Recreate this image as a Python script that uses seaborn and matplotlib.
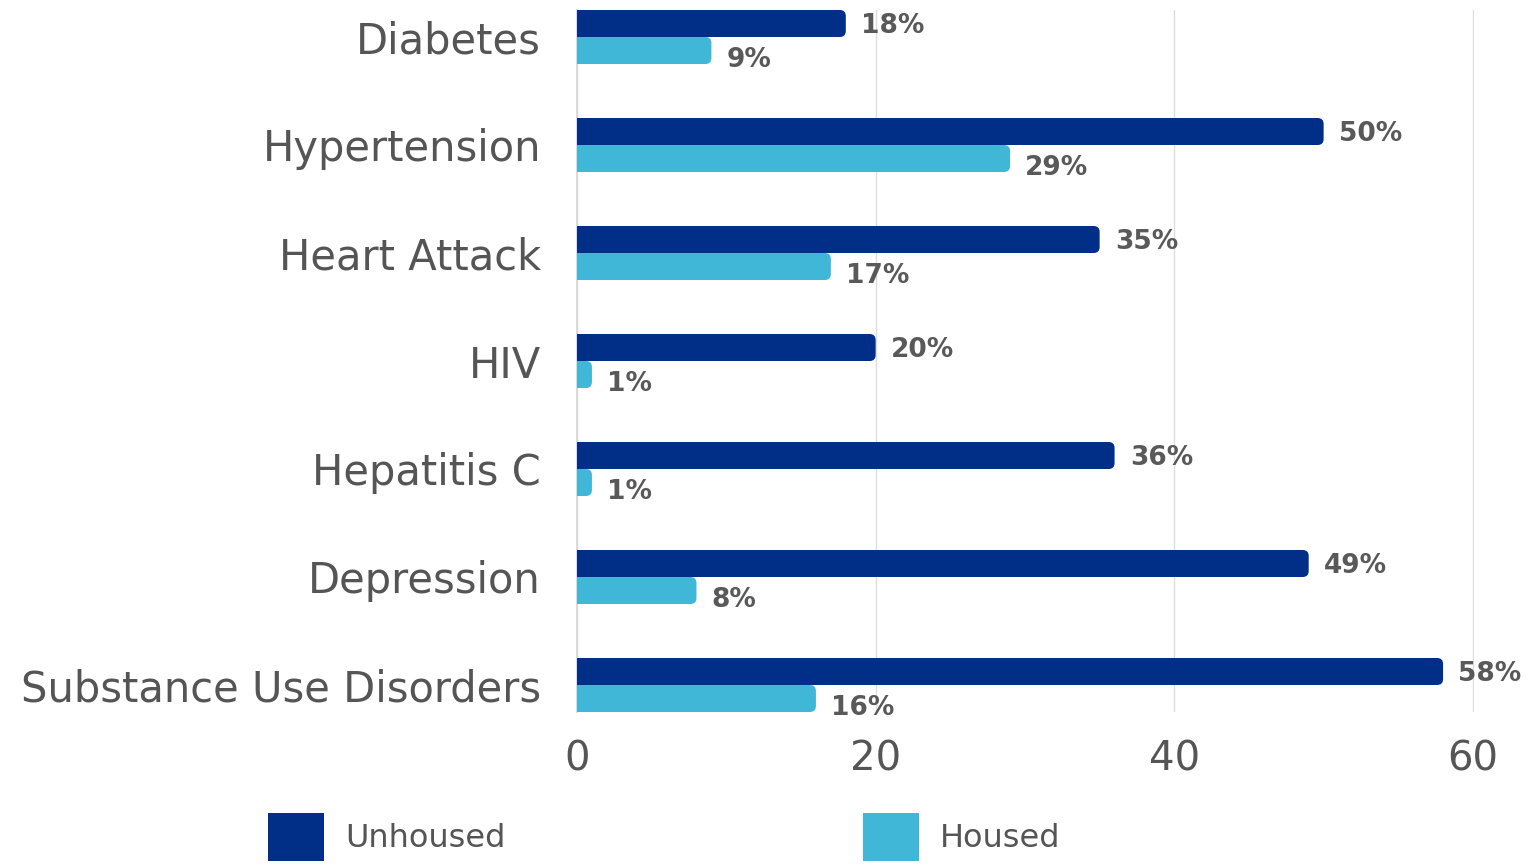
import matplotlib
matplotlib.use("Agg")
import matplotlib.pyplot as plt
from matplotlib.patches import FancyBboxPatch, Patch
import seaborn as sns
import pandas as pd

# Prevalence of conditions (%) by housing status
conditions = ["Diabetes", "Hypertension", "Heart Attack", "HIV",
              "Hepatitis C", "Depression", "Substance Use Disorders"]
unhoused = [18, 50, 35, 20, 36, 49, 58]
housed = [9, 29, 17, 1, 1, 8, 16]
groups = ["Unhoused", "Housed"]
colors = {"Unhoused": "#012E86", "Housed": "#41B7D7"}
x_ticks = [0, 20, 40, 60]

df = pd.DataFrame({
    "Condition": conditions * 2,
    "Group": ["Unhoused"] * len(conditions) + ["Housed"] * len(conditions),
    "Percent": unhoused + housed,
})

sns.set_theme(style="white")
plt.rcParams["font.family"] = ["DejaVu Sans"]
text_grey = "#555555"

fig = plt.figure(figsize=(15.32, 8.65), dpi=100)
ax = fig.add_axes([577 / 1532, 1 - 712 / 865, (1474 - 577) / 1532, (712 - 10) / 865])

sns.barplot(data=df, y="Condition", x="Percent", hue="Group",
            hue_order=groups, order=conditions, palette=colors,
            orient="h", width=0.5, dodge=True, gap=0, ax=ax,
            legend=False, saturation=1)

ax.set_xlim(0, 60.07)
ax.set_ylim(len(conditions) - 0.75, -0.25)
ax.set_xticks(x_ticks)
ax.set_xlabel("")
ax.set_ylabel("")

# round the right-hand end of each bar
px_x = ax.get_window_extent().width / 60.07
px_y = ax.get_window_extent().height / (len(conditions) - 0.5)
radius = 6 / px_x
aspect = px_x / px_y
for bar in list(ax.patches):
    x0, y0 = bar.get_x(), bar.get_y()
    w, h = bar.get_width(), bar.get_height()
    color = bar.get_facecolor()
    r = min(radius, w / 2)
    rounded = FancyBboxPatch((x0, y0), w, h,
                             boxstyle=f"round,pad=0,rounding_size={r}",
                             mutation_aspect=aspect, facecolor=color,
                             edgecolor="none", zorder=2)
    ax.add_patch(rounded)
    bar.set_width(max(w - r, 0))
    bar.set_zorder(3)
    bar.set_edgecolor("none")

# value labels
for container, group in zip(ax.containers, groups):
    dy = 2 if group == "Unhoused" else 7
    vals = unhoused if group == "Unhoused" else housed
    for bar, val in zip(container, vals):
        yc = bar.get_y() + bar.get_height() / 2
        ax.annotate(f"{val}%", xy=(val, yc), xytext=(11, -dy),
                    textcoords="offset points", ha="left", va="center",
                    fontsize=19, fontweight="bold", color="#595959",
                    annotation_clip=False)

ax.grid(axis="x", color="#dddddd", linewidth=1)
ax.set_axisbelow(True)
for side in ["top", "right", "bottom"]:
    ax.spines[side].set_visible(False)
ax.spines["left"].set_color("#d5d5d5")
ax.spines["left"].set_linewidth(1.2)
ax.tick_params(axis="y", length=0, pad=26, labelsize=30, labelcolor=text_grey)
ax.tick_params(axis="x", length=0, pad=20, labelsize=29, labelcolor=text_grey)
for lbl in ax.get_yticklabels():
    lbl.set_y(lbl.get_position()[1])
    lbl.set_va("center_baseline")

handles = [Patch(facecolor=colors[g], edgecolor="none") for g in groups]
fig.legend(handles, groups, loc="lower left",
           bbox_to_anchor=(268 / 1532, 4 / 865),
           ncol=2, frameon=False, fontsize=23, labelcolor=text_grey,
           handlelength=1.75, handleheight=1.94, handletextpad=0.66,
           columnspacing=11.2, borderpad=0, borderaxespad=0)

fig.savefig("out.png", dpi=100)
